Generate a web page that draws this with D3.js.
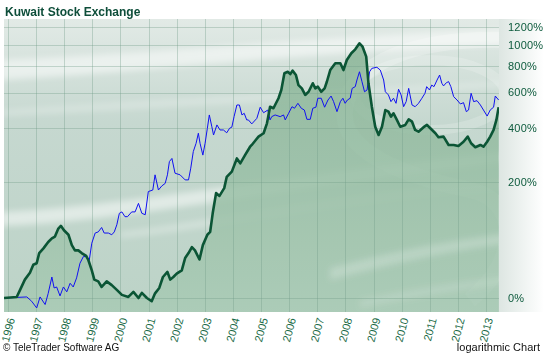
<!DOCTYPE html>
<html>
<head>
<meta charset="utf-8">
<script src="https://cdn.jsdelivr.net/npm/d3@7"></script>
<style>
  body { margin: 0; background: #fff; }
  svg { display: block; font-family: "Liberation Sans", Arial, sans-serif; }
</style>
</head>
<body>
<svg id="chart" width="544" height="353"></svg>
<script>
// ---- data (% change since start, log chart) ----
const yearTicks = [1996, 1997, 1998, 1999, 2000, 2001, 2002, 2003, 2004,
                   2005, 2006, 2007, 2008, 2009, 2010, 2011, 2012, 2013];
const pctTicks = [0, 200, 400, 600, 800, 1000, 1200];

// Kuwait Stock Exchange (thick green line)
const kseDates = [1995.86, 1996.31, 1996.43, 1996.60, 1996.78, 1996.90, 1997.02, 1997.11, 1997.26, 1997.43,
  1997.56, 1997.67, 1997.79, 1997.88, 1997.99, 1998.15, 1998.27, 1998.38, 1998.50, 1998.62,
  1998.78, 1998.86, 1998.98, 1999.07, 1999.21, 1999.33, 1999.51, 1999.69, 1999.87, 2000.05,
  2000.28, 2000.46, 2000.64, 2000.76, 2000.94, 2001.11, 2001.23, 2001.38, 2001.51, 2001.67,
  2001.77, 2001.88, 2002.00, 2002.18, 2002.30, 2002.42, 2002.54, 2002.65, 2002.81, 2002.93,
  2003.09, 2003.19, 2003.28, 2003.40, 2003.52, 2003.69, 2003.78, 2003.96, 2004.14, 2004.26,
  2004.43, 2004.61, 2004.67, 2004.91, 2005.09, 2005.21, 2005.32, 2005.44, 2005.62, 2005.72,
  2005.83, 2005.95, 2006.04, 2006.12, 2006.24, 2006.33, 2006.45, 2006.57, 2006.69, 2006.84,
  2006.93, 2007.02, 2007.14, 2007.26, 2007.34, 2007.46, 2007.64, 2007.82, 2007.93, 2008.05,
  2008.21, 2008.35, 2008.50, 2008.61, 2008.74, 2008.82, 2008.94, 2009.06, 2009.18, 2009.30,
  2009.42, 2009.53, 2009.62, 2009.71, 2009.83, 2009.95, 2010.13, 2010.25, 2010.37, 2010.48,
  2010.60, 2010.78, 2010.90, 2011.02, 2011.20, 2011.31, 2011.49, 2011.67, 2011.85, 2012.02,
  2012.20, 2012.35, 2012.47, 2012.62, 2012.80, 2012.91, 2013.04, 2013.15, 2013.27, 2013.37, 2013.45];
const kseChange = [0, 1, 8, 19, 27, 37, 39, 53, 60, 70,
  76, 79, 93, 98, 90, 82, 65, 57, 57, 53,
  49, 43, 30, 19, 17, 11, 17, 13, 8, 3,
  1, 6, 0, 5, 0, -3, 4.5, 10, 22, 28,
  19, 22, 26, 30, 46, 53, 62, 57, 44, 65,
  82, 87, 123, 170, 163, 183, 215, 231, 275, 258,
  287, 319, 326, 361, 376, 423, 512, 503, 563, 617,
  740, 752, 734, 761, 726, 651, 628, 584, 605, 664,
  628, 640, 605, 628, 675, 766, 823, 823, 766, 852,
  915, 954, 1016, 980, 883, 664, 512, 406, 368, 406,
  493, 484, 457, 475, 440, 406, 415, 443, 431, 391,
  383, 404, 415, 399, 376, 358, 361, 326, 326, 322,
  339, 361, 333, 317, 326, 319, 339, 361, 391, 440, 509];

// comparison series (thin blue line)
const benchDates = [1995.86, 1996.67, 1996.84, 1997.02, 1997.14, 1997.32, 1997.43, 1997.56, 1997.64, 1997.73,
  1997.85, 1997.97, 1998.09, 1998.21, 1998.32, 1998.44, 1998.56, 1998.68, 1998.80, 1998.89,
  1998.98, 1999.10, 1999.21, 1999.33, 1999.42, 1999.57, 1999.69, 1999.78, 1999.87, 1999.96,
  2000.05, 2000.16, 2000.25, 2000.40, 2000.52, 2000.64, 2000.76, 2000.88, 2000.99, 2001.15,
  2001.23, 2001.35, 2001.47, 2001.59, 2001.67, 2001.74, 2001.83, 2001.94, 2002.12, 2002.30,
  2002.42, 2002.50, 2002.59, 2002.69, 2002.77, 2002.83, 2002.93, 2003.01, 2003.09, 2003.16,
  2003.25, 2003.31, 2003.43, 2003.54, 2003.66, 2003.78, 2003.88, 2003.96, 2004.04, 2004.14,
  2004.23, 2004.32, 2004.40, 2004.49, 2004.55, 2004.67, 2004.85, 2004.97, 2005.09, 2005.24,
  2005.32, 2005.38, 2005.50, 2005.68, 2005.80, 2005.86, 2005.98, 2006.10, 2006.19, 2006.31,
  2006.43, 2006.54, 2006.63, 2006.75, 2006.84, 2006.95, 2007.02, 2007.14, 2007.26, 2007.38,
  2007.49, 2007.58, 2007.70, 2007.82, 2007.91, 2007.99, 2008.07, 2008.17, 2008.24, 2008.35,
  2008.41, 2008.50, 2008.59, 2008.68, 2008.77, 2008.86, 2008.94, 2009.12, 2009.24, 2009.36,
  2009.42, 2009.53, 2009.62, 2009.71, 2009.80, 2009.89, 2009.98, 2010.07, 2010.16, 2010.25,
  2010.37, 2010.48, 2010.60, 2010.72, 2010.83, 2010.89, 2010.99, 2011.07, 2011.15, 2011.26,
  2011.35, 2011.43, 2011.49, 2011.59, 2011.67, 2011.75, 2011.85, 2011.97, 2012.09, 2012.20,
  2012.30, 2012.38, 2012.47, 2012.56, 2012.68, 2012.80, 2012.91, 2013.04, 2013.15, 2013.27,
  2013.33, 2013.45];
const benchChange = [0, 1, -3, -9, 1, -6, 4.5, 22, 10, 11,
  2, 11, 6, 15, 11, 21, 39, 48, 48, 43,
  68, 85, 87, 95, 85, 85, 82, 87, 100, 123,
  126, 116, 116, 126, 126, 145, 123, 120, 174, 178,
  221, 178, 189, 196, 221, 264, 275, 226, 221, 206,
  206, 242, 300, 333, 376, 333, 287, 333, 399, 466,
  406, 368, 415, 391, 391, 378, 399, 404, 457, 522,
  522, 466, 475, 440, 440, 420, 448, 509, 478, 493,
  440, 457, 466, 457, 466, 440, 475, 512, 503, 532,
  503, 493, 443, 443, 503, 509, 563, 563, 509, 552,
  577, 542, 484, 542, 563, 532, 552, 563, 628, 640,
  688, 752, 675, 605, 617, 752, 780, 789, 766, 688,
  605, 584, 542, 563, 532, 622, 584, 512, 542, 628,
  522, 512, 532, 563, 595, 640, 617, 651, 640, 688,
  726, 664, 645, 668, 676, 640, 573, 552, 528, 536,
  484, 493, 595, 542, 548, 522, 493, 460, 493, 509,
  577, 552];

const kse = kseDates.map((d, i) => ({date: d, value: kseChange[i]}));
const bench = benchDates.map((d, i) => ({date: d, value: benchChange[i]}));

// ---- layout ----
const svg = d3.select("#chart");
const plot = {left: 4, right: 499, top: 19, bottom: 312};

const x = d3.scaleLinear().domain([1996, 2013]).range([8, 486]);
// log chart: % change mapped on 1 + pct/100
const y = d3.scaleLog().domain([1, 13]).range([298, 27.14]);
const yv = p => y(1 + p / 100);

const defs = svg.append("defs");

const bgGrad = defs.append("linearGradient").attr("id", "bg").attr("x1", 0).attr("y1", 0).attr("x2", 0).attr("y2", 1);
bgGrad.append("stop").attr("offset", 0).attr("stop-color", "#e2eae6");
bgGrad.append("stop").attr("offset", 0.35).attr("stop-color", "#c6d8d0");
bgGrad.append("stop").attr("offset", 1).attr("stop-color", "#bcd3c7");

const sideGrad = defs.append("linearGradient").attr("id", "side").attr("x1", 0).attr("y1", 0).attr("x2", 1).attr("y2", 0);
sideGrad.append("stop").attr("offset", 0).attr("stop-color", "#dde6e2");
sideGrad.append("stop").attr("offset", 1).attr("stop-color", "#ffffff");

const fillGrad = defs.append("linearGradient").attr("id", "fillg")
  .attr("gradientUnits", "userSpaceOnUse").attr("x1", 0).attr("x2", 0).attr("y1", plot.top).attr("y2", plot.bottom);
fillGrad.append("stop").attr("offset", 0).attr("stop-color", "#86b293");
fillGrad.append("stop").attr("offset", 1).attr("stop-color", "#a9cab5");

const blur = defs.append("filter").attr("id", "blur").attr("x", "-20%").attr("y", "-50%").attr("width", "140%").attr("height", "200%");
blur.append("feGaussianBlur").attr("stdDeviation", 3);

defs.append("clipPath").attr("id", "clip").append("rect")
  .attr("x", plot.left).attr("y", plot.top)
  .attr("width", plot.right - plot.left).attr("height", plot.bottom - plot.top);

// side panel behind y labels
svg.append("rect").attr("x", plot.right).attr("y", plot.top)
  .attr("width", 544 - plot.right).attr("height", plot.bottom - plot.top)
  .attr("fill", "url(#side)");

const g = svg.append("g").attr("clip-path", "url(#clip)");

g.append("rect").attr("x", plot.left).attr("y", plot.top)
  .attr("width", plot.right - plot.left).attr("height", plot.bottom - plot.top)
  .attr("fill", "url(#bg)");

// decorative light streaks and the big swoosh logo
const deco = g.append("g").attr("filter", "url(#blur)").attr("fill", "#fff");
deco.append("path").attr("d", "M0,60 C150,54 300,38 520,28 L520,44 C300,52 150,72 0,80 Z").attr("opacity", 0.5);
deco.append("path").attr("d", "M0,212 C120,206 250,180 520,150 L520,160 C250,192 120,222 0,226 Z").attr("opacity", 0.5);
deco.append("path").attr("d", "M120,232 C220,220 320,196 520,180 L520,186 C320,204 220,228 120,238 Z").attr("opacity", 0.3);
deco.append("path").attr("d", "M0,110 C150,100 300,92 520,80 L520,86 C300,100 150,108 0,116 Z").attr("opacity", 0.25);

const logo = g.append("g").attr("fill", "none").attr("stroke", "#fff");
logo.append("path").attr("d", "M505,40 C420,38 350,60 345,110 C340,150 400,175 470,190 C520,200 520,260 470,300")
  .attr("stroke-width", 16).attr("opacity", 0.22);
logo.append("ellipse").attr("cx", 430).attr("cy", 95).attr("rx", 75).attr("ry", 35)
  .attr("stroke-width", 10).attr("opacity", 0.18);

// area under the exchange line
const area = d3.area().x(d => x(d.date)).y0(plot.bottom).y1(d => yv(d.value));
g.append("path").datum(kse).attr("d", area).attr("fill", "url(#fillg)").attr("opacity", 0.85);

// soft streaks over the filled area
const deco2 = g.append("g").attr("filter", "url(#blur)").attr("fill", "#fff");
deco2.append("path").attr("d", "M330,268 C400,250 450,240 520,232 L520,242 C450,250 400,262 330,280 Z").attr("opacity", 0.22);
deco2.append("path").attr("d", "M360,300 C420,288 470,280 520,276 L520,282 C470,288 420,296 360,308 Z").attr("opacity", 0.15);

// grid
const grid = g.append("g").attr("stroke", "#6f9c86").attr("stroke-opacity", 0.35).attr("stroke-width", 1);
grid.selectAll("line.v").data(yearTicks).join("line").attr("class", "v")
  .attr("x1", d => Math.round(x(d)) + 0.5).attr("x2", d => Math.round(x(d)) + 0.5)
  .attr("y1", plot.top).attr("y2", plot.bottom);
grid.selectAll("line.h").data(pctTicks).join("line").attr("class", "h")
  .attr("x1", plot.left).attr("x2", plot.right)
  .attr("y1", d => Math.round(yv(d)) + 0.5).attr("y2", d => Math.round(yv(d)) + 0.5);

// lines
const line = d3.line().x(d => x(d.date)).y(d => yv(d.value));
g.append("path").datum(bench).attr("d", line)
  .attr("fill", "none").attr("stroke", "#1010f0").attr("stroke-width", 1).attr("stroke-linejoin", "round");
g.append("path").datum(kse).attr("d", line)
  .attr("fill", "none").attr("stroke", "#0b5535").attr("stroke-width", 2.6).attr("stroke-linejoin", "round");

// y labels on the right
svg.append("g").selectAll("text").data(pctTicks).join("text")
  .attr("x", 508).attr("y", d => yv(d)).attr("dy", "0.36em")
  .attr("font-size", 11).attr("letter-spacing", 0.2).attr("fill", "#0c5a3c")
  .text(d => d + "%");

// x labels, rotated
svg.append("g").selectAll("text").data(yearTicks).join("text")
  .attr("transform", d => `translate(${x(d) + 7},319) rotate(-75)`)
  .attr("text-anchor", "end")
  .attr("font-size", 11).attr("fill", "#1b6b47")
  .text(d => d);

// title and footer
svg.append("text").attr("x", 5).attr("y", 16)
  .attr("font-size", 12).attr("font-weight", "bold").attr("fill", "#0e4e3a")
  .text("Kuwait Stock Exchange");
svg.append("text").attr("x", 3).attr("y", 351)
  .attr("font-size", 10).attr("fill", "#111")
  .text("© TeleTrader Software AG");
svg.append("text").attr("x", 540).attr("y", 351).attr("text-anchor", "end")
  .attr("font-size", 11).attr("fill", "#111")
  .text("logarithmic Chart");
</script>
</body>
</html>
